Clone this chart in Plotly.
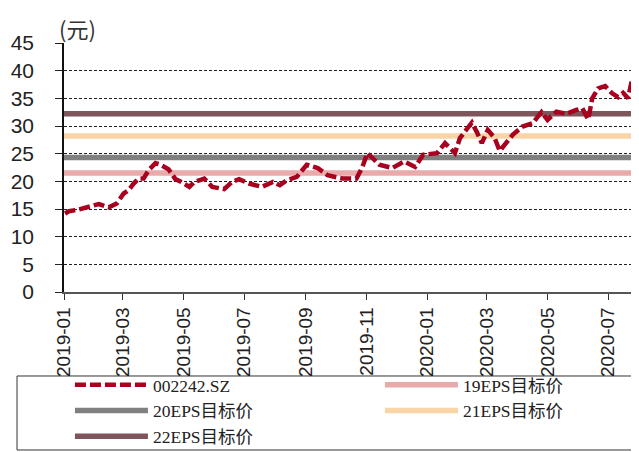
import plotly.graph_objects as go

# Stock price series
dates = [
    "2019-01-02", "2019-01-06", "2019-01-16", "2019-01-24", "2019-02-05", "2019-02-15",
    "2019-02-23", "2019-03-02", "2019-03-07", "2019-03-12", "2019-03-17", "2019-03-22",
    "2019-03-27", "2019-04-03", "2019-04-08", "2019-04-16", "2019-04-23", "2019-04-29",
    "2019-05-07", "2019-05-12", "2019-05-17", "2019-05-22", "2019-05-30", "2019-06-11",
    "2019-06-19", "2019-06-26", "2019-07-06", "2019-07-19", "2019-07-30", "2019-08-06",
    "2019-08-13", "2019-08-23", "2019-09-02", "2019-09-13", "2019-09-23", "2019-10-08",
    "2019-10-22", "2019-10-28", "2019-11-02", "2019-11-14", "2019-11-27", "2019-12-09",
    "2019-12-20", "2019-12-28", "2020-01-11", "2020-01-19", "2020-01-29", "2020-02-03",
    "2020-02-08", "2020-02-15", "2020-02-20", "2020-02-25", "2020-03-02", "2020-03-09",
    "2020-03-14", "2020-03-21", "2020-03-27", "2020-04-06", "2020-04-16", "2020-04-25",
    "2020-05-01", "2020-05-10", "2020-05-20", "2020-05-30", "2020-06-05", "2020-06-11",
    "2020-06-15", "2020-06-21", "2020-06-28", "2020-07-05", "2020-07-11", "2020-07-16",
    "2020-07-21", "2020-07-25", "2020-07-30",
]
price = [
    14.2, 14.6, 14.9, 15.3, 15.9, 15.3,
    16.0, 17.8, 18.4, 19.6, 20.5, 20.5,
    22.0, 23.3, 23.0, 22.2, 20.4, 19.9,
    19.0, 19.9, 20.3, 20.5, 19.0, 18.6,
    19.9, 20.4, 19.6, 19.0, 19.9, 19.3,
    20.2, 20.8, 23.0, 22.4, 21.1, 20.5,
    20.5, 22.6, 25.1, 23.0, 22.4, 23.6,
    22.6, 24.8, 25.1, 26.9, 25.1, 27.8,
    29.0, 30.6, 28.9, 26.9, 29.3, 27.8,
    25.5, 27.0, 28.4, 29.9, 30.5, 32.5,
    31.1, 32.6, 32.2, 32.9, 33.2, 31.2,
    35.0, 36.8, 37.2, 35.9, 35.2, 36.0,
    35.0, 38.4, 40.1,
]

# Target price levels
target_names = ["19EPS目标价", "20EPS目标价", "21EPS目标价", "22EPS目标价"]
target_values = [21.5, 24.3, 28.2, 32.2]
target_colors = ["#E8AAAA", "#808080", "#F8D4A6", "#7E555A"]

x_range = ["2019-01-01", "2020-08-01"]
y_ticks = [0, 5, 10, 15, 20, 25, 30, 35, 40, 45]

fig = go.Figure()

for i, (nm, val, col) in enumerate(zip(target_names, target_values, target_colors)):
    fig.add_trace(go.Scatter(
        x=x_range, y=[val, val], mode="lines", name=nm,
        line=dict(color=col, width=5.5), legendrank=i + 2,
    ))

fig.add_trace(go.Scatter(
    x=dates, y=price, mode="lines", name="002242.SZ",
    line=dict(color="#A8001E", width=4.5, dash="11px,4px"),
    legendrank=1,
))

fig.update_layout(
    width=631, height=444,
    margin=dict(l=56, r=0, t=35, b=160, autoexpand=False),
    paper_bgcolor="white", plot_bgcolor="white",
    showlegend=True,
    legend=dict(
        orientation="h", x=-0.0001, xanchor="left", y=-0.277, yanchor="top",
        entrywidth=222, entrywidthmode="pixels", itemwidth=73,
        bordercolor="rgba(0,0,0,0)", borderwidth=6, bgcolor="rgba(0,0,0,0)",
        font=dict(family="Liberation Serif, Noto Sans CJK SC", size=17.5, color="#222222"),
        traceorder="normal",
    ),
    shapes=[dict(
        type="rect", xref="paper", yref="paper",
        x0=-0.0817, x1=0.9965, y0=-0.6345, y1=-0.3373,
        line=dict(color="#333333", width=1), fillcolor="rgba(0,0,0,0)", layer="below",
    )],
    annotations=[dict(
        text="(元)", xref="paper", yref="paper", x=0.0243, y=1.0, xanchor="center",
        yanchor="middle", showarrow=False, yshift=15,
        font=dict(family="Noto Sans CJK SC", size=22, color="#333333"),
    )],
)

fig.update_xaxes(
    type="date", range=x_range, dtick="M2", tick0="2019-01-01", tickformat="%Y-%m",
    tickangle=-90, ticks="outside", ticklen=6, tickcolor="#333333",
    showline=True, linecolor="#555555", linewidth=1.5, showgrid=False,
    tickfont=dict(family="Liberation Sans, Arial", size=19, color="#222222"),
    zeroline=False,
)
fig.update_yaxes(
    range=[0, 45], tickvals=y_ticks, ticks="outside", ticklen=7, tickcolor="#222222",
    showline=True, linecolor="#111111", linewidth=1.5,
    showgrid=True, gridcolor="#222222", gridwidth=1, griddash="3px,2px",
    tickfont=dict(family="Liberation Sans, Arial", size=21, color="#222222"),
    ticklabelstandoff=17, zeroline=False,
)

fig.write_html("out.html")
